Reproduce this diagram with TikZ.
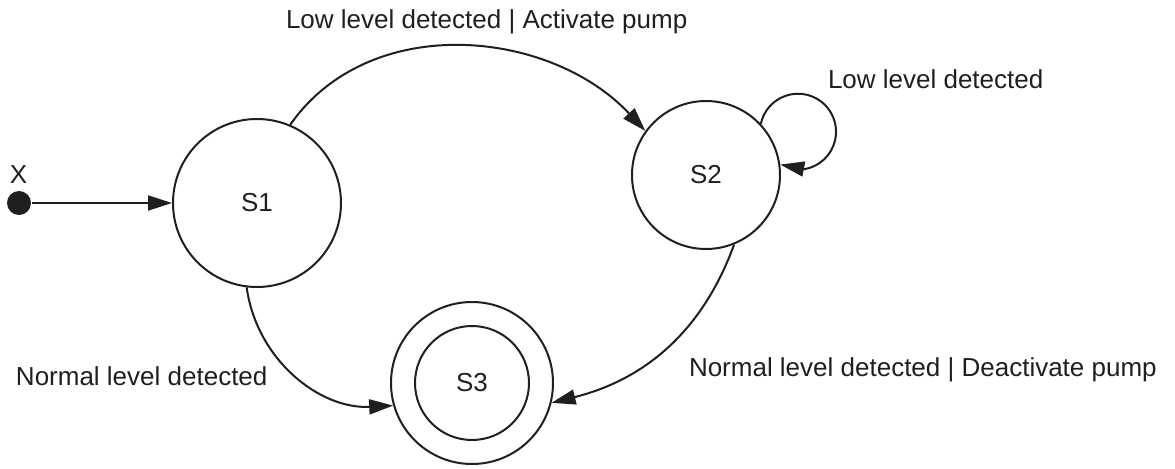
\documentclass[tikz,border=0pt]{standalone}
\usepackage{fontspec}
\setmainfont{Liberation Sans}
\usetikzlibrary{arrows.meta}
\definecolor{inkline}{gray}{0.12}

\begin{document}
\begin{tikzpicture}[inkline,x=0.5pt,y=0.5pt,line width=1pt,
	font=\fontsize{13}{15}\selectfont,
	state/.style={draw,circle,inner sep=0pt},
	lab/.style={anchor=base west,inner sep=0pt},
	arr/.style={-{Triangle[length=12pt,width=7.5pt]}}]
			\useasboundingbox (0,0) rectangle (1175,468);
			
			\node[circle,fill,inner sep=0pt,minimum size=12pt] (X) at (19,265) {};
			\node[anchor=base,inner sep=0pt] (Xlab) at (18.5,285) {X};
			
			\node[state,minimum size=84pt] (S1) at (257,265) {S1};
			\node[state,minimum size=74pt] (S2) at (706,293) {S2};
			\node[state,minimum size=81pt] (S3) at (472,85) {};
			\node[state,minimum size=57pt] (S3in) at (S3) {S3};
			
			\draw[arr] (X) -- (S1);
			\draw[arr] (S1.67) to[out=55,in=133] (S2.144);
			\draw[arr] (S2.43) arc[start angle=168,end angle=-80,radius=19pt] -- (S2.8);
			\draw[arr] (S1.-97) to[out=-82,in=183] (S3.196);
			\draw[arr] (S2.-68) to[out=-110,in=14] (S3.-14);
			
			\node[lab] (lowact) at (285,440) {Low level detected | Activate pump};
			\node[lab] (lowself) at (827,380) {Low level detected};
			\node[lab] (normal) at (15,83) {Normal level detected};
			\node[lab] (normdeact) at (688,92) {Normal level detected | Deactivate pump};
		\end{tikzpicture}
\end{document}
